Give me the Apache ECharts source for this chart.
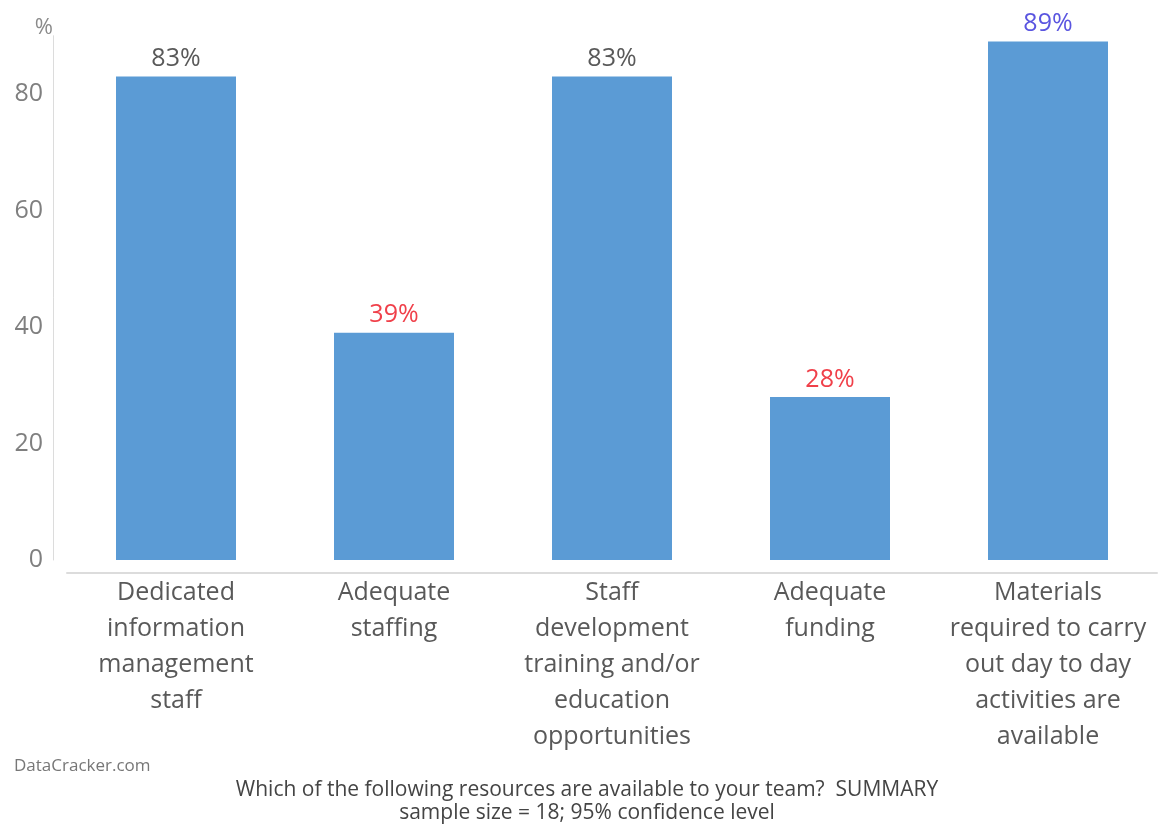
<!DOCTYPE html>
<html>
<head>
<meta charset="utf-8">
<script src="https://cdn.jsdelivr.net/npm/echarts@6/dist/echarts.min.js"></script>
<style>
  html, body { margin: 0; padding: 0; background: #fff; }
  #chart { width: 1163px; height: 831px; }
</style>
</head>
<body>
<div id="chart"></div>
<script>
// Resource availability survey summary
const categories = [
  'Dedicated\ninformation\nmanagement\nstaff',
  'Adequate\nstaffing',
  'Staff\ndevelopment\ntraining and/or\neducation\nopportunities',
  'Adequate\nfunding',
  'Materials\nrequired to carry\nout day to day\nactivities are\navailable'
];
const values = [83, 39, 83, 28, 89];
const labelColors = ['#595959', '#f0404a', '#595959', '#f0404a', '#5a55e0'];
const yTicks = [0, 20, 40, 60, 80];

const FONT = '"Open Sans", "Noto Sans", sans-serif';

const chart = echarts.init(document.getElementById('chart'), null, { renderer: 'canvas' });

chart.setOption({
  animation: false,
  textStyle: { fontFamily: FONT },
  grid: { left: 67, right: 6, top: 35.75, bottom: 271, containLabel: false },
  xAxis: {
    type: 'category',
    data: categories,
    offset: 13,
    axisLine: { show: true, onZero: false, lineStyle: { color: '#dcdcdc', width: 2 } },
    axisTick: { show: false },
    axisLabel: {
      color: '#595959',
      fontSize: 25,
      fontFamily: FONT,
      lineHeight: 36,
      margin: 2,
      interval: 0,
      align: 'center'
    }
  },
  yAxis: {
    type: 'value',
    min: 0,
    max: 90,
    interval: 10,
    offset: 14,
    name: '%',
    nameLocation: 'end',
    nameGap: 8,
    nameTextStyle: { color: '#8a8a8a', fontSize: 22, fontFamily: FONT, align: 'right', verticalAlign: 'middle' },
    axisLine: { show: true, lineStyle: { color: '#dcdcdc', width: 1 } },
    axisTick: { show: false },
    splitLine: { show: false },
    axisLabel: {
      color: '#7f7f7f',
      fontSize: 25,
      fontFamily: FONT,
      margin: 10,
      formatter: v => (yTicks.indexOf(v) >= 0 ? String(v) : '')
    }
  },
  series: [{
    type: 'bar',
    data: values.map((v, i) => ({
      value: v,
      label: { color: labelColors[i] }
    })),
    barWidth: 120,
    itemStyle: { color: '#5b9bd5' },
    label: {
      show: true,
      position: 'top',
      distance: 5,
      fontSize: 25,
      fontFamily: FONT,
      formatter: p => p.value + '%'
    }
  }],
  graphic: [
    {
      type: 'text',
      x: 14,
      y: 758,
      style: { text: 'DataCracker.com', fill: '#777', font: '17px ' + FONT }
    },
    {
      type: 'text',
      x: 587,
      y: 779,
      style: {
        text: 'Which of the following resources are available to your team?  SUMMARY\nsample size = 18; 95% confidence level',
        fill: '#444',
        font: '21px ' + FONT,
        align: 'center',
        lineHeight: 23
      }
    }
  ]
});
</script>
</body>
</html>
